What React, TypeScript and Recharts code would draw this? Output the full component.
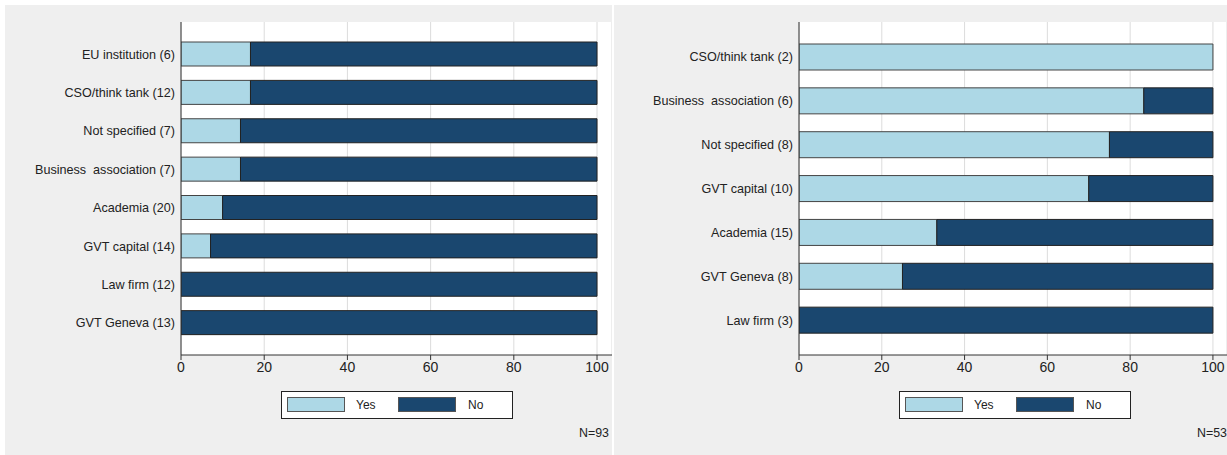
import React from 'react';
import { BarChart, Bar, XAxis, YAxis, CartesianGrid } from 'recharts';

// left panel
const leftCategories = [
  'EU institution (6)',
  'CSO/think tank (12)',
  'Not specified (7)',
  'Business \u00a0association (7)',
  'Academia (20)',
  'GVT capital (14)',
  'Law firm (12)',
  'GVT Geneva (13)',
];
const leftYes = [16.7, 16.7, 14.3, 14.3, 10, 7.1, 0, 0];
const leftNo = [83.3, 83.3, 85.7, 85.7, 90, 92.9, 100, 100];

// right panel
const rightCategories = [
  'CSO/think tank (2)',
  'Business \u00a0association (6)',
  'Not specified (8)',
  'GVT capital (10)',
  'Academia (15)',
  'GVT Geneva (8)',
  'Law firm (3)',
];
const rightYes = [100, 83.3, 75, 70, 33.3, 25, 0];
const rightNo = [0, 16.7, 25, 30, 66.7, 75, 100];

const xTicks = [0, 20, 40, 60, 80, 100];

const LIGHT = '#add8e6';
const DARK = '#1a476f';
const PANEL_BG = '#efefef';
const FONT = '"Liberation Sans", Arial, Helvetica, sans-serif';

type Row = { name: string; yes: number; no: number };

const toRows = (cats: string[], yes: number[], no: number[]): Row[] =>
  cats.map((name, i) => ({ name, yes: yes[i], no: no[i] }));

function LegendBox({ left }: { left: number }) {
  const sw = { width: 58, height: 15, border: '1px solid #555', boxSizing: 'border-box' as const };
  return (
    <div
      style={{
        position: 'absolute', left, top: 386, width: 232, height: 28,
        border: '1px solid #222', background: '#fff', boxSizing: 'border-box',
        fontFamily: FONT, fontSize: 12, color: '#222',
      }}
    >
      <div style={{ ...sw, position: 'absolute', left: 5, top: 5, background: LIGHT }} />
      <span style={{ position: 'absolute', left: 74, top: 6 }}>Yes</span>
      <div style={{ ...sw, position: 'absolute', left: 116, top: 5, background: DARK }} />
      <span style={{ position: 'absolute', left: 186, top: 6 }}>No</span>
    </div>
  );
}

function Panel(props: {
  left: number; width: number; yAxisWidth: number; xMax: number;
  rows: Row[]; barSize: number; note: string; noteRight: number; legendLeft: number;
}) {
  const { left, width, yAxisWidth, xMax, rows, barSize, note, noteRight, legendLeft } = props;
  return (
    <div style={{ position: 'absolute', left, top: 5, width, height: 450, background: PANEL_BG }}>
      <BarChart
        layout="vertical"
        width={width}
        height={450}
        data={rows}
        margin={{ top: 17, right: 0, bottom: 70, left: 0 }}
        barCategoryGap={0}
      >
        <CartesianGrid horizontal={false} stroke="#dcdcdc" fill="#fff" />
        <XAxis
          type="number"
          domain={[0, xMax]}
          ticks={xTicks}
          allowDataOverflow
          height={30}
          tick={{ fontSize: 14, fill: '#222', fontFamily: FONT }}
          tickSize={5}
          tickLine={{ stroke: '#333' }}
          axisLine={{ stroke: '#333' }}
        />
        <YAxis
          type="category"
          dataKey="name"
          width={yAxisWidth}
          padding={{ top: 13, bottom: 13 }}
          tickLine={false}
          tickSize={4}
          axisLine={{ stroke: '#333' }}
          tick={{ fontSize: 12.6, fill: '#222', fontFamily: FONT }}
          interval={0}
        />
        <Bar dataKey="yes" stackId="a" fill={LIGHT} stroke="#444" strokeWidth={1} barSize={barSize} isAnimationActive={false} />
        <Bar dataKey="no" stackId="a" fill={DARK} stroke="#222" strokeWidth={1} barSize={barSize} isAnimationActive={false} />
      </BarChart>
      <LegendBox left={legendLeft} />
      <div
        style={{
          position: 'absolute', right: noteRight, top: 421,
          fontFamily: FONT, fontSize: 12.4, color: '#222',
        }}
      >
        {note}
      </div>
    </div>
  );
}

export default function App() {
  return (
    <div style={{ position: 'absolute', left: 0, top: 0, width: 1227, height: 455, background: '#fff', overflow: 'hidden' }}>
      <Panel
        left={5}
        width={607}
        yAxisWidth={176}
        xMax={103.6}
        rows={toRows(leftCategories, leftYes, leftNo)}
        barSize={24}
        note="N=93"
        noteRight={3}
        legendLeft={276}
      />
      <Panel
        left={614}
        width={613}
        yAxisWidth={185}
        xMax={103.4}
        rows={toRows(rightCategories, rightYes, rightNo)}
        barSize={26}
        note="N=53"
        noteRight={0}
        legendLeft={285}
      />
    </div>
  );
}
